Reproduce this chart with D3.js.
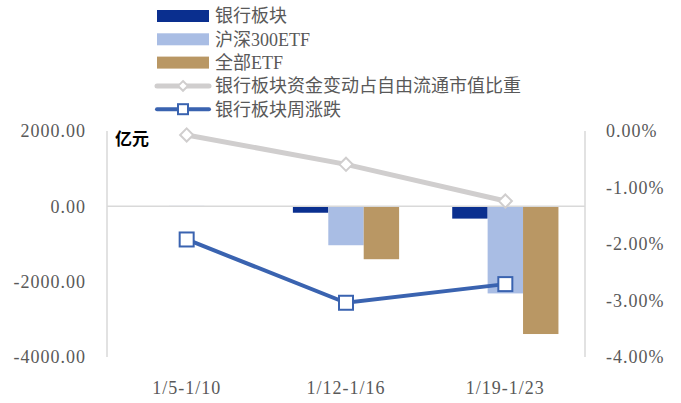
<!DOCTYPE html>
<html>
<head>
<meta charset="utf-8">
<script src="https://cdn.jsdelivr.net/npm/d3@7"></script>
<style>
  body { margin: 0; background: #fff; }
  text { font-family: "Liberation Serif", "Noto Sans CJK SC", serif; }
</style>
</head>
<body>
<div id="chart"></div>
<script>
// data
const categories = ["1/5-1/10", "1/12-1/16", "1/19-1/23"];
const bankFlow = [0, -170, -326];        // 银行板块 (亿元)
const hs300Flow = [12, -1033, -2312];    // 沪深300ETF
const allEtfFlow = [0, -1404, -3390];    // 全部ETF
const flowRatio = [-0.0007, -0.0059, -0.0124];   // 资金变动占自由流通市值比重
const weeklyChange = [-0.0192, -0.0304, -0.0271]; // 周涨跌
const leftTicks = [2000, 0, -2000, -4000];
const rightTicks = [0, -0.01, -0.02, -0.03, -0.04];

const barSeries = [
  { name: "银行板块", values: bankFlow, color: "#0a2f8f" },
  { name: "沪深300ETF", values: hs300Flow, color: "#a9bde4" },
  { name: "全部ETF", values: allEtfFlow, color: "#b99764" }
];

const width = 681, height = 403;
const plot = { left: 107, right: 585, top: 131, bottom: 357 };
const textColor = "#595959";

// plain hyphen instead of d3's unicode minus
const fmtNum = d => d3.format(".2f")(d).replace("−", "-");
const fmtPct = d => d3.format(".2%")(d).replace("−", "-");

const svg = d3.select("#chart").append("svg")
  .attr("width", width)
  .attr("height", height);

const x0 = d3.scaleBand()
  .domain(categories)
  .range([plot.left, plot.right])
  .paddingInner(1 / 3)
  .paddingOuter(1 / 6);

const x1 = d3.scaleBand()
  .domain(barSeries.map(d => d.name))
  .range([0, x0.bandwidth()]);

const yL = d3.scaleLinear().domain([-4000, 2000]).range([plot.bottom, plot.top]);
const yR = d3.scaleLinear().domain([-0.04, 0]).range([plot.bottom, plot.top]);

// axis lines
svg.append("line")
  .attr("x1", plot.left).attr("x2", plot.left)
  .attr("y1", plot.top).attr("y2", plot.bottom)
  .attr("stroke", "#d9d9d9").attr("stroke-width", 1.5);
svg.append("line")
  .attr("x1", plot.right).attr("x2", plot.right)
  .attr("y1", plot.top).attr("y2", plot.bottom)
  .attr("stroke", "#d9d9d9").attr("stroke-width", 1.5);

// left ticks
svg.append("g").selectAll("text")
  .data(leftTicks)
  .enter().append("text")
    .attr("x", 86)
    .attr("y", d => yL(d))
    .attr("dy", "0.35em")
    .attr("text-anchor", "end")
    .attr("fill", textColor)
    .style("font-size", "18px")
    .style("letter-spacing", "1px")
    .text(fmtNum);

// right ticks
svg.append("g").selectAll("text")
  .data(rightTicks)
  .enter().append("text")
    .attr("x", 606)
    .attr("y", d => yR(d))
    .attr("dy", "0.35em")
    .attr("fill", textColor)
    .style("font-size", "18px")
    .style("letter-spacing", "1px")
    .text(fmtPct);

// category labels
svg.append("g").selectAll("text")
  .data(categories)
  .enter().append("text")
    .attr("x", d => x0(d) + x0.bandwidth() / 2)
    .attr("y", 388)
    .attr("dy", "0.35em")
    .attr("text-anchor", "middle")
    .attr("fill", textColor)
    .style("font-size", "18px")
    .style("letter-spacing", "1px")
    .text(d => d);

// bars
const groups = svg.append("g").selectAll("g")
  .data(barSeries)
  .enter().append("g")
    .attr("fill", d => d.color);

groups.selectAll("rect")
  .data(s => s.values.map((v, i) => ({ name: s.name, cat: categories[i], v: v })))
  .enter().append("rect")
    .attr("x", d => x0(d.cat) + x1(d.name))
    .attr("width", x1.bandwidth())
    .attr("y", d => yL(Math.max(0, d.v)))
    .attr("height", d => Math.abs(yL(d.v) - yL(0)));

// zero line
svg.append("line")
  .attr("x1", plot.left).attr("x2", plot.right)
  .attr("y1", yL(0)).attr("y2", yL(0))
  .attr("stroke", "#d9d9d9").attr("stroke-width", 1.5);

const cx = i => x0(categories[i]) + x0.bandwidth() / 2;

// gray line with diamonds
svg.append("path")
  .datum(flowRatio)
  .attr("fill", "none")
  .attr("stroke", "#d0cece")
  .attr("stroke-width", 5)
  .attr("d", d3.line().x((d, i) => cx(i)).y(d => yR(d)));

svg.append("g").selectAll("path")
  .data(flowRatio)
  .enter().append("path")
    .attr("transform", (d, i) => "translate(" + cx(i) + "," + yR(d) + ")")
    .attr("d", d3.symbol().type(d3.symbolDiamond2).size(110))
    .attr("fill", "#fff")
    .attr("stroke", "#d0cece")
    .attr("stroke-width", 2);

// blue line with squares
svg.append("path")
  .datum(weeklyChange)
  .attr("fill", "none")
  .attr("stroke", "#3a63b0")
  .attr("stroke-width", 4)
  .attr("d", d3.line().x((d, i) => cx(i)).y(d => yR(d)));

svg.append("g").selectAll("rect")
  .data(weeklyChange)
  .enter().append("rect")
    .attr("x", (d, i) => cx(i) - 7)
    .attr("y", d => yR(d) - 7)
    .attr("width", 14)
    .attr("height", 14)
    .attr("fill", "#fff")
    .attr("stroke", "#3a63b0")
    .attr("stroke-width", 2);

// unit label
svg.append("text")
  .attr("x", 115)
  .attr("y", 139)
  .attr("dy", "0.35em")
  .attr("fill", "#000")
  .style("font-size", "17px")
  .style("font-weight", "bold")
  .style("font-family", "Noto Sans CJK SC")
  .text("亿元");

// legend
const legendItems = [
  { name: "银行板块", type: "bar", color: "#0a2f8f" },
  { name: "沪深300ETF", type: "bar", color: "#a9bde4" },
  { name: "全部ETF", type: "bar", color: "#b99764" },
  { name: "银行板块资金变动占自由流通市值比重", type: "diamond", color: "#d0cece" },
  { name: "银行板块周涨跌", type: "square", color: "#3a63b0" }
];

const legend = svg.append("g").selectAll("g")
  .data(legendItems)
  .enter().append("g")
    .attr("transform", (d, i) => "translate(157," + (16 + i * 23.3) + ")");

legend.filter(d => d.type === "bar").append("rect")
  .attr("x", 0).attr("y", -6)
  .attr("width", 52).attr("height", 12)
  .attr("fill", d => d.color);

legend.filter(d => d.type !== "bar").append("line")
  .attr("x1", 0).attr("x2", 52)
  .attr("stroke", d => d.color)
  .attr("stroke-width", d => d.type === "diamond" ? 5 : 4)
  .attr("stroke-linecap", "round");

legend.filter(d => d.type === "diamond").append("path")
  .attr("transform", "translate(26,0)")
  .attr("d", d3.symbol().type(d3.symbolDiamond2).size(60))
  .attr("fill", "#fff")
  .attr("stroke", d => d.color)
  .attr("stroke-width", 2);

legend.filter(d => d.type === "square").append("rect")
  .attr("x", 21).attr("y", -5)
  .attr("width", 10).attr("height", 10)
  .attr("fill", "#fff")
  .attr("stroke", d => d.color)
  .attr("stroke-width", 2);

legend.append("text")
  .attr("x", 58)
  .attr("y", 0)
  .attr("dy", "0.35em")
  .attr("fill", textColor)
  .style("font-size", "18px")
  .text(d => d.name);
</script>
</body>
</html>
